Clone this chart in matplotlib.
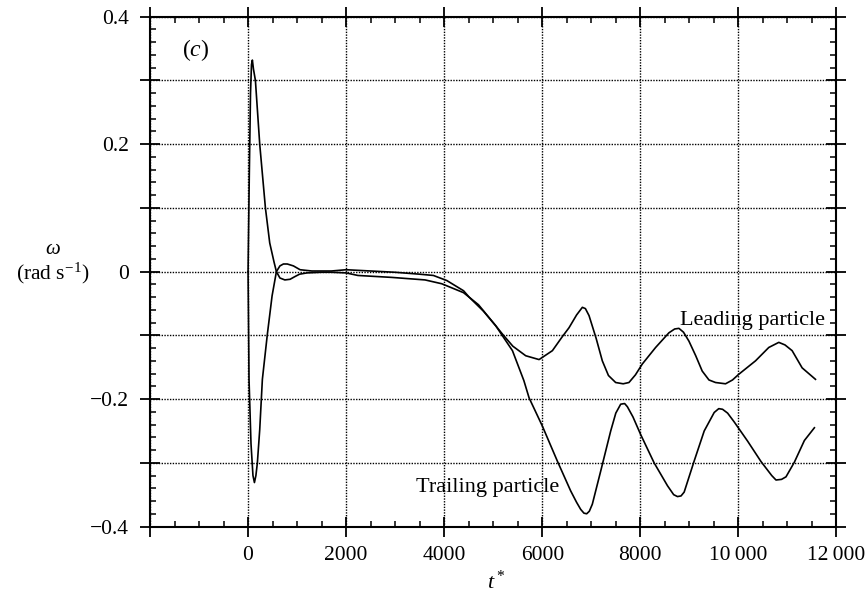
import numpy as np
import matplotlib
matplotlib.use("Agg")
import matplotlib.pyplot as plt
from matplotlib.ticker import MultipleLocator, FixedLocator

plt.rcParams['font.family'] = ['Liberation Serif', 'DejaVu Serif']
plt.rcParams['mathtext.fontset'] = 'custom'
plt.rcParams['mathtext.rm'] = 'Liberation Serif'
plt.rcParams['mathtext.it'] = 'Liberation Serif:italic'
plt.rcParams['mathtext.bf'] = 'Liberation Serif:bold'

# ---- data ----
lead_t = [0, 20, 60, 100, 130, 160, 190, 238, 292, 394, 490, 578, 650, 721, 800,
          925, 1061, 1300, 1700, 2000, 2500, 3000, 3500, 3780, 4054, 4395, 4509,
          4800, 5052, 5188, 5400, 5663, 5935, 6207, 6400, 6546, 6700, 6818, 6880,
          6954, 7100, 7225, 7350, 7497, 7650, 7768, 7900, 8040, 8312, 8583, 8700,
          8787, 8880, 8991, 9130, 9262, 9400, 9534, 9738, 9880, 10009, 10349,
          10620, 10824, 10950, 11096, 11300, 11572]
lead_w = [0.0, -0.17, -0.27, -0.32, -0.331, -0.32, -0.300, -0.248, -0.169, -0.098,
          -0.038, 0.0, 0.009, 0.012, 0.012, 0.009, 0.003, 0.001, 0.001, 0.003,
          0.001, -0.001, -0.004, -0.006, -0.014, -0.030, -0.040, -0.062, -0.085,
          -0.098, -0.117, -0.132, -0.138, -0.124, -0.103, -0.088, -0.068, -0.056,
          -0.058, -0.069, -0.105, -0.140, -0.163, -0.174, -0.176, -0.174, -0.162,
          -0.145, -0.119, -0.096, -0.090, -0.089, -0.095, -0.109, -0.132, -0.156,
          -0.170, -0.174, -0.176, -0.170, -0.161, -0.140, -0.119, -0.111, -0.115,
          -0.124, -0.151, -0.169]

trail_t = [0, 25, 50, 70, 88, 110, 150, 238, 354, 442, 530, 578, 650, 750, 857,
           950, 1050, 1200, 1500, 1700, 2000, 2240, 2925, 3610, 3950, 4395, 4700,
           5052, 5392, 5625, 5731, 6000, 6306, 6579, 6700, 6783, 6850, 6906, 6960,
           7021, 7192, 7396, 7500, 7600, 7680, 7736, 7850, 8009, 8281, 8554, 8680,
           8758, 8830, 8894, 9099, 9303, 9507, 9600, 9677, 9780, 9916, 10188, 10461,
           10680, 10767, 10880, 10971, 11142, 11346, 11550]
trail_w = [0.0, 0.15, 0.28, 0.325, 0.332, 0.318, 0.300, 0.200, 0.100, 0.045,
           0.015, 0.0, -0.010, -0.013, -0.012, -0.008, -0.004, -0.002, -0.001,
           -0.001, -0.002, -0.006, -0.009, -0.013, -0.019, -0.033, -0.052, -0.085,
           -0.124, -0.171, -0.198, -0.242, -0.297, -0.344, -0.362, -0.373, -0.379,
           -0.380, -0.376, -0.365, -0.313, -0.250, -0.222, -0.208, -0.207, -0.212,
           -0.228, -0.256, -0.300, -0.336, -0.350, -0.353, -0.352, -0.346, -0.297,
           -0.250, -0.221, -0.215, -0.216, -0.222, -0.236, -0.266, -0.298, -0.320,
           -0.327, -0.326, -0.322, -0.299, -0.265, -0.245]

x_ticks = [-2000, 0, 2000, 4000, 6000, 8000, 10000, 12000]
x_ticklabels = ['', '0', '2000', '4000', '6000', '8000', '10\u2009000', '12\u2009000']
y_ticks = [-0.4, -0.3, -0.2, -0.1, 0.0, 0.1, 0.2, 0.3, 0.4]
y_ticklabels = ['\u22120.4', '', '\u22120.2', '', '0', '', '0.2', '', '0.4']

fig = plt.figure(figsize=(8.65, 5.92), dpi=100)
ax = fig.add_axes([0.1734, 0.1106, 0.7936, 0.8611])

ax.plot(lead_t, lead_w, color='black', lw=1.2)
ax.plot(trail_t, trail_w, color='black', lw=1.2)

ax.set_xlim(-2000, 12000)
ax.set_ylim(-0.4, 0.4)
ax.xaxis.set_major_locator(FixedLocator(x_ticks))
ax.set_xticklabels(x_ticklabels)
ax.xaxis.set_minor_locator(MultipleLocator(500))
ax.yaxis.set_major_locator(FixedLocator(y_ticks))
ax.set_yticklabels(y_ticklabels)
ax.yaxis.set_minor_locator(MultipleLocator(0.02))

ax.tick_params(which='major', direction='inout', length=14, width=1.3,
               top=True, right=True, labelsize=15.5, color='black')
ax.tick_params(axis='x', which='major', pad=7)
ax.tick_params(axis='y', which='major', pad=8)
ax.tick_params(which='minor', direction='in', length=4, width=1.1,
               top=True, right=True)
for s in ax.spines.values():
    s.set_linewidth(1.5)

ax.grid(True, which='major', linestyle=(0, (1, 1)), color='black', lw=1.0)
ax.set_axisbelow(True)

ax.text(10294, -0.076, 'Leading particle', ha='center', va='center', fontsize=16)
ax.text(4878, -0.339, 'Trailing particle', ha='center', va='center', fontsize=16)

fig.text(196 / 865, 1 - 50 / 592, r'$(c)$', ha='center', va='center', fontsize=17)
fig.text(53 / 865, 1 - 249 / 592, '\u03c9', ha='center', va='center',
         fontsize=15, style='italic')
fig.text(53 / 865, 1 - 273 / 592, r'(rad s$^{-1}$)', ha='center', va='center',
         fontsize=15.5)
fig.text(496 / 865, 1 - 582 / 592, r'$t^*$', ha='center', va='center', fontsize=16)

fig.savefig('out.png', dpi=100)
